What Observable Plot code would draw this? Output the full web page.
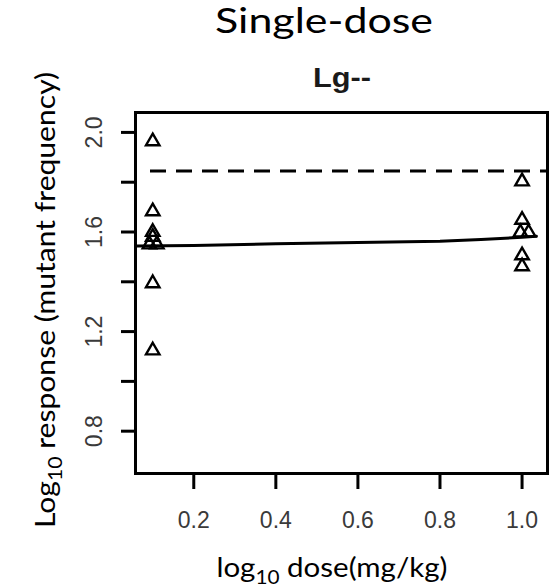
<!DOCTYPE html>
<html>
<head>
<meta charset="utf-8">
<script src="https://cdn.jsdelivr.net/npm/d3@7"></script>
<script src="https://cdn.jsdelivr.net/npm/@observablehq/plot@0.6"></script>
<style>
  html, body { margin: 0; padding: 0; background: #fff; }
  #chart { width: 557px; height: 587px; }
</style>
</head>
<body>
<div id="chart"></div>
<script>
// ---- data ----
const xTicks = [0.2, 0.4, 0.6, 0.8, 1.0];
const yTicks = [0.8, 1.0, 1.2, 1.4, 1.6, 1.8, 2.0];
const yTickLabels = [0.8, 1.2, 1.6, 2.0];

const doseValues = [0.1, 0.1, 0.1, 0.1, 0.092, 0.11, 0.1, 0.1,
                    1.0, 1.0, 0.996, 1.016, 1.0, 1.0];
const responseValues = [1.964, 1.683, 1.60, 1.58, 1.55, 1.55, 1.394, 1.124,
                        1.803, 1.649, 1.598, 1.598, 1.506, 1.462];

const fitDose = [0.06, 0.2, 0.4, 0.6, 0.8, 0.9, 1.0, 1.035];
const fitResponse = [1.544, 1.546, 1.553, 1.558, 1.563, 1.570, 1.579, 1.583];

const referenceLevel = [1.845];

const titleText = "Single-dose";
const subtitleText = "Lg--";

// ---- tables ----
const points = doseValues.map((d, i) => ({dose: d, response: responseValues[i]}));
const fit = fitDose.map((d, i) => ({dose: d, response: fitResponse[i]}));

const svg = Plot.plot({
  width: 557,
  height: 587,
  marginLeft: 135,
  marginRight: 10,
  marginTop: 112,
  marginBottom: 114,
  style: {background: "#fff", overflow: "visible"},
  x: {domain: [0.058, 1.062], axis: null},
  y: {domain: [0.63, 2.08], axis: null},
  marks: [
    Plot.axisX(xTicks, {
      tickSize: 16, tickPadding: 22, strokeWidth: 3,
      tickFormat: d3.format(".1f"),
      fontSize: 23, fontFamily: "Liberation Sans, Arial, sans-serif",
      fill: "#3a3a3a", label: null
    }),
    Plot.axisY(yTicks, {
      tickSize: 14, strokeWidth: 3, tickFormat: () => "", label: null
    }),
    Plot.text(yTickLabels, {
      y: d => d, text: d3.format(".1f"), frameAnchor: "left", dx: -41,
      rotate: -90, textAnchor: "middle", lineAnchor: "middle",
      fontSize: 23, fontFamily: "Liberation Sans, Arial, sans-serif", fill: "#3a3a3a"
    }),
    Plot.ruleY(referenceLevel, {
      stroke: "black", strokeWidth: 3, strokeDasharray: "16,10", insetLeft: 15
    }),
    Plot.line(fit, {x: "dose", y: "response", stroke: "black", strokeWidth: 3}),
    Plot.dot(points, {
      x: "dose", y: "response", symbol: "triangle", r: 5,
      stroke: "black", fill: "none", strokeWidth: 2.4
    }),
    Plot.frame({stroke: "black", strokeWidth: 3})
  ]
});

document.getElementById("chart").appendChild(svg);

const s = d3.select(svg);
const sans = "Lato, 'Open Sans', sans-serif";

s.append("text")
  .attr("x", 324).attr("y", 33)
  .attr("text-anchor", "middle")
  .attr("font-family", sans).attr("font-size", 34)
  .attr("textLength", 218).attr("lengthAdjust", "spacingAndGlyphs")
  .attr("fill", "#000")
  .text(titleText);

s.append("text")
  .attr("x", 342).attr("y", 87)
  .attr("text-anchor", "middle")
  .attr("font-family", "Liberation Sans, Arial, sans-serif")
  .attr("font-size", 28).attr("font-weight", "bold")
  .attr("textLength", 58).attr("lengthAdjust", "spacingAndGlyphs")
  .attr("fill", "#1a1a1a")
  .text(subtitleText);

// x axis label
const xl = s.append("text")
  .attr("x", 332).attr("y", 577)
  .attr("text-anchor", "middle")
  .attr("font-family", sans).attr("font-size", 27)
  .attr("textLength", 231).attr("lengthAdjust", "spacingAndGlyphs")
  .attr("fill", "#000");
xl.append("tspan").text("log");
xl.append("tspan").attr("dy", 7).attr("font-size", 19).text("10");
xl.append("tspan").attr("dy", -7).text(" dose(mg/kg)");

// y axis label
const yl = s.append("text")
  .attr("transform", "translate(55,300) rotate(-90)")
  .attr("text-anchor", "middle")
  .attr("font-family", sans).attr("font-size", 27)
  .attr("textLength", 456).attr("lengthAdjust", "spacingAndGlyphs")
  .attr("fill", "#000");
yl.append("tspan").text("Log");
yl.append("tspan").attr("dy", 7).attr("font-size", 19).text("10");
yl.append("tspan").attr("dy", -7).text(" response (mutant frequency)");
</script>
</body>
</html>
